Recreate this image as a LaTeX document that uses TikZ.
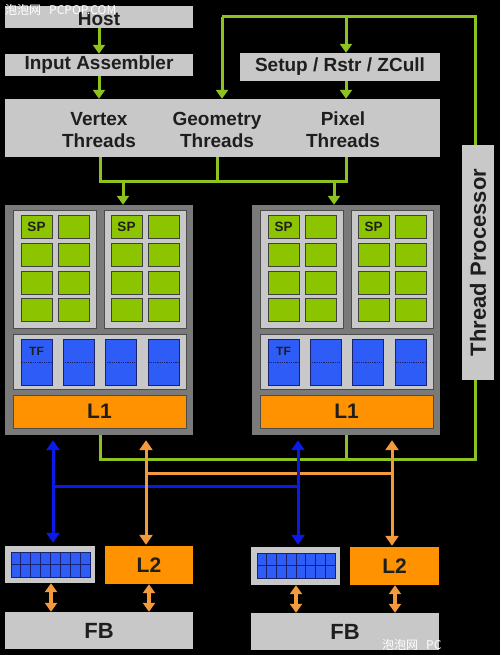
\documentclass[tikz,border=0pt]{standalone}
\usepackage{fontspec}
\setmainfont{Liberation Sans}
\newfontfamily\cjk{Noto Sans CJK SC}
\usetikzlibrary{arrows.meta}
\definecolor{lgray}{HTML}{C8C8C8}
\definecolor{dgray}{HTML}{7A7A7A}
\definecolor{spgreen}{HTML}{8CC400}
\definecolor{lgreen}{HTML}{8DC21F}
\definecolor{tfblue}{HTML}{2E5CF6}
\definecolor{tfedge}{HTML}{1A2270}
\definecolor{lblue}{HTML}{0B1AE8}
\definecolor{orng}{HTML}{FF9200}
\definecolor{lorng}{HTML}{F39A3C}
\definecolor{txt}{HTML}{1E1E1E}
\begin{document}
\begin{tikzpicture}[x=1pt,y=-1pt,
  sz/.style 2 args={minimum width=#1pt,minimum height=#2pt},
  box/.style={fill=lgray,draw=none,inner sep=0pt,text=txt,font=\bfseries\fontsize{19}{22}\selectfont},
  lbl/.style={inner sep=0pt,text=txt,align=center,font=\bfseries\fontsize{19}{22}\selectfont},
  clbox/.style={fill=dgray,draw=none,inner sep=0pt},
  grp/.style={fill=lgray,draw=black!70,line width=1pt,inner sep=0pt},
  spcell/.style={fill=spgreen,draw=black!75,line width=1pt,inner sep=0pt},
  tfcell/.style={fill=tfblue,draw=tfedge,line width=1pt,inner sep=0pt},
  small/.style={inner sep=0pt,text=txt,font=\bfseries\fontsize{13.5}{14}\selectfont},
  cache/.style={fill=orng,draw=none,inner sep=0pt,text=txt,font=\bfseries\fontsize{21}{22}\selectfont},
  gline/.style={draw=lgreen,line width=3pt},
  garrow/.style={gline,-{Triangle[width=12pt,length=9pt]}},
  bline/.style={draw=lblue,line width=3pt},
  barrow/.style={bline,{Triangle[width=13pt,length=10pt]}-{Triangle[width=13pt,length=10pt]}},
  oline/.style={draw=lorng,line width=3pt},
  oarrow/.style={oline,{Triangle[width=13pt,length=10pt]}-{Triangle[width=13pt,length=10pt]}},
  sarrow/.style={draw=lorng,line width=4pt,{Triangle[width=12pt,length=9pt]}-{Triangle[width=12pt,length=9pt]}},
  wm/.style={inner sep=0pt,text=white,font=\cjk\fontsize{12}{12}\selectfont}
]
\fill[black] (0,0) rectangle (500,655);
\useasboundingbox (0,0) rectangle (500,655);

% top boxes
\node[box,sz={188}{22}] (host) at (99,17) {};
\node[lbl] (hostl) at (99,19) {Host};
\node[box,sz={188}{22}] (ia) at (99,65) {Input Assembler};
\node[box,sz={200}{28}] (setup) at (340,67) {Setup / Rstr / ZCull};
\node[box,sz={435}{58}] (threads) at (222.5,128) {};
\node[lbl] (vt) at (99,130) {Vertex\\Threads};
\node[lbl] (gt) at (217,130) {Geometry\\Threads};
\node[lbl] (pt) at (343,130) {Pixel\\Threads};
\node[box,sz={32}{235}] (tp) at (478,262.5) {};
\node[lbl,rotate=90,font=\bfseries\fontsize{22}{22}\selectfont] (tpl) at (tp) {Thread Processor};

% clusters
\foreach \s/\n in {0/a,247/b}{
  \begin{scope}[xshift=\s pt]
    \node[clbox,sz={188}{230}] (cl\n) at (99,320) {};
    \node[grp,sz={83}{118}] (ga\n) at (54.5,269) {};
    \node[grp,sz={82}{118}] (gb\n) at (145,269) {};
    \foreach \cx [count=\ci] in {36.5,73.5,126.5,163.5}{
      \foreach \r in {0,...,3}{
        \node[spcell,sz={31}{23}] (sp\n\ci\r) at (\cx,{227+27.8*\r}) {};
      }
    }
    \node[small] (spla\n) at (sp\n10) {SP};
    \node[small] (splb\n) at (sp\n30) {SP};
    \node[grp,sz={173}{55}] (tfg\n) at (99.5,361.5) {};
    \foreach \cx [count=\ci] in {36.5,79,121,163.5}{
      \node[tfcell,sz={31}{46}] (tf\n\ci) at (\cx,362) {};
      \draw[tfedge,densely dotted,line width=0.8pt] (tf\n\ci.west) -- (tf\n\ci.east);
    }
    \node[small,font=\bfseries\fontsize{12}{12}\selectfont] (tfl\n) at (36.5,351) {TF};
    \node[cache,sz={173}{33},draw=black!70,line width=1pt] (l1\n) at (99.5,411.5) {L1};
  \end{scope}
}

% bottom boxes
\node[box,sz={90}{37}] (mema) at (50,564.5) {};
\node[box,sz={89}{38}] (memb) at (295.5,566) {};
\node[cache,sz={88}{38}] (l2a) at (149,565) {L2};
\node[cache,sz={89}{38}] (l2b) at (394.5,566) {L2};
\node[box,sz={188}{37},font=\bfseries\fontsize{22}{22}\selectfont] (fba) at (99,630.5) {FB};
\node[box,sz={188}{37},font=\bfseries\fontsize{22}{22}\selectfont] (fbb) at (345,631.5) {FB};

% memory grids
\foreach \gx/\gy/\gw in {11/552/79,257/553/78}{
  \fill[tfblue] (\gx,\gy) rectangle ++(\gw,25);
  \foreach \i in {1,...,7}{
    \draw[tfedge,line width=1pt] ({\gx+\gw/8*\i},\gy) -- ++(0,25);
  }
  \draw[tfedge,line width=1pt] (\gx,\gy+12.5) -- ++(\gw,0);
  \draw[tfedge,line width=1pt] (\gx,\gy) rectangle ++(\gw,25);
}

% green connections (top)
\draw[garrow] (host) -- (ia);
\draw[garrow] (ia) -- (ia |- threads.north);
\coordinate (lr) at (475,17);
\coordinate (ll) at (222,17);
\coordinate (lm) at (346,17);
\draw[gline] (tp.north -| lr) -- (lr) -- (ll);
\draw[garrow] (ll) -- (ll |- threads.north);
\draw[garrow] (lm) -- (lm |- setup.north);
\draw[garrow] (setup.south -| lm) -- (lm |- threads.north);
\coordinate (b1) at (100,181);
\coordinate (b2) at (217,181);
\coordinate (b3) at (346,181);
\draw[gline] (threads.south -| b1) -- (b1) -- (b3) -- (threads.south -| b3);
\draw[gline] (threads.south -| b2) -- (b2);
\coordinate (d1) at (123,181);
\coordinate (d2) at (334,181);
\draw[garrow] (d1) -- (d1 |- cla.north);
\draw[garrow] (d2) -- (d2 |- clb.north);

% green connections (bottom)
\coordinate (g1) at (100,459);
\coordinate (g2) at (475,459);
\draw[gline] (cla.south -| g1) -- (g1) -- (g2) -- (tp.south -| g2);
\draw[gline] (clb.south) -- (clb.south |- g1);

% blue and orange buses
\coordinate (bx1) at (53,486);
\coordinate (bx2) at (298,486);
\coordinate (ox1) at (146,473);
\coordinate (ox2) at (392,473);
\draw[bline] (bx1) -- (bx2);
\draw[oline] (ox1) -- (ox2);
\draw[oarrow,shorten <=5pt,shorten >=1pt] (cla.south -| ox1) -- (l2a.north -| ox1);
\draw[oarrow,shorten <=5pt,shorten >=1pt] (clb.south -| ox2) -- (l2b.north -| ox2);
\draw[barrow,shorten <=5pt,shorten >=3pt] (cla.south -| bx1) -- (mema.north -| bx1);
\draw[barrow,shorten <=5pt,shorten >=2pt] (clb.south -| bx2) -- (memb.north -| bx2);

% small memory arrows
\draw[sarrow] (mema.south -| 51,0) -- (fba.north -| 51,0);
\draw[sarrow] (l2a.south -| 149,0) -- (fba.north -| 149,0);
\draw[sarrow] (memb.south -| 296,0) -- (fbb.north -| 296,0);
\draw[sarrow] (l2b.south -| 395,0) -- (fbb.north -| 395,0);

% watermarks
\node[wm,anchor=west] (wm1) at (5,10) {泡泡网\hspace{8pt}PCPOP.COM};
\node[wm,anchor=west] (wm2) at (382,645) {泡泡网\hspace{8pt}PC};
\end{tikzpicture}
\end{document}
